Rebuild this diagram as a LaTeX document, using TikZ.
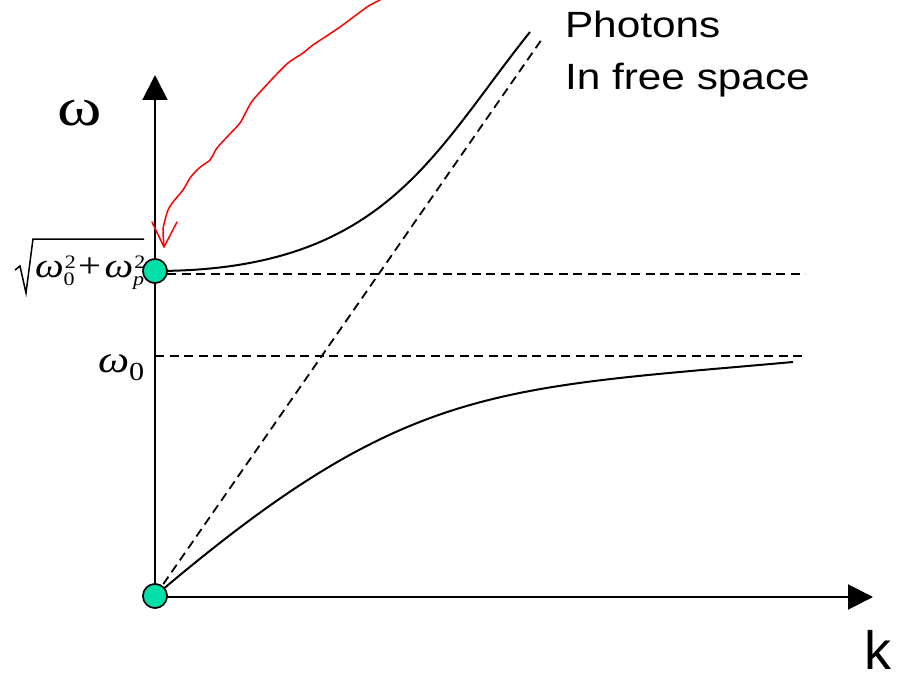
\documentclass[tikz,border=0pt]{standalone}
\usepackage{fontspec}
\setmainfont{Liberation Serif}
\newfontfamily\arialf{Liberation Sans}
\usetikzlibrary{arrows.meta}
\definecolor{dotgreen}{RGB}{0,224,168}
\newcommand\sx[1]{\scalebox{1.16}[1]{#1}}
\newcommand\smallfs{\fontsize{19}{19}\selectfont}
\newcommand\wsup[2]{\mbox{\itshape ω}\rlap{\hspace{1pt}\raisebox{9pt}{\smallfs #1}}\raisebox{-8pt}{\smallfs #2}}
\begin{document}
\begin{tikzpicture}[x=1pt,y=-1pt,
  dotnode/.style={circle,draw=black,fill=dotgreen,minimum size=24pt,inner sep=0pt,line width=1.5pt},
  axisline/.style={line width=2pt,-{Triangle[length=25pt,width=25pt]}},
  curveline/.style={line width=2pt},
  dashline/.style={line width=1.8pt,dash pattern=on 9pt off 5.5pt},
  hand/.style={red,line width=1.5pt,line join=round,line cap=round},
  lab/.style={inner sep=0pt,outer sep=0pt}]
\useasboundingbox (0,0) rectangle (898,677);
\coordinate (ytip) at (155,75);
\coordinate (xtip) at (873,597);
\coordinate (dg) at (542,39);
\coordinate (h1a) at (155,356);
\coordinate (h1b) at (803,356);
\coordinate (h2b) at (805,274);
\coordinate (up) at (530,32);
\coordinate (lo) at (793,362);
% axes
\draw[axisline] (155,596) -- (ytip);
\draw[axisline] (155,597) -- (xtip);
% dashed lines
\draw[dashline] (h1a) -- (h1b);
\draw[dashline] (167,274) -- (h2b);
\draw[dashline] (155,596) -- (dg);
% dots (placed first so curves can start at them)
\node[dotnode] (o) at (155,596) {};
\node[dotnode] (u) at (155,271) {};
% curves
\draw[curveline] (u.center) .. controls (385,271) and (432,154) .. (up);
\draw[curveline] (o.center) .. controls (405,383.5) and (493,389) .. (lo);
% dots on top
\node[dotnode] at (o) {};
\node[dotnode] at (u) {};
% red hand-drawn arrow
\draw[hand] plot[smooth,tension=0.4] coordinates {(380,0) (367,7) (340,27) (313,45) (303,53) (288,63) (273,78) (253,100) (247,110) (240,123) (227,137) (217,148) (210,160) (203,165) (197,170) (190,178) (183,190) (173,202) (168,210) (165,220) (163,230) (164,247)};
\draw[hand] (152,222) -- (164,247) -- (177,222);
% labels
\node[lab,anchor=base] (wlab) at (80,125) {\fontsize{54}{54}\selectfont\scalebox{1.25}[1]{ω}};
\node[lab,anchor=base west] (w0lab) at (98,372) {\fontsize{38}{38}\selectfont\sx{\mbox{\itshape ω}\raisebox{-8pt}{\fontsize{26}{26}\selectfont 0}}};
\node[lab,anchor=base west] (sqlab) at (35,277) {\fontsize{35}{35}\selectfont\sx{\wsup{2}{0}\hspace{3pt}+\hspace{3pt}\wsup{2}{\itshape p}}};
\draw[line width=1.5pt,line join=miter] (15,270) -- (20,266) -- (26,293) -- (33,239) -- (144,239);
\node[lab,anchor=base west] (ph1) at (565,38) {\arialf\fontsize{36.5}{36.5}\selectfont\sx{Photons}};
\node[lab,anchor=base west] (ph2) at (565,89) {\arialf\fontsize{36.5}{36.5}\selectfont\sx{In free space}};
\node[lab,anchor=base west] (klab) at (864,669) {\arialf\fontsize{54}{54}\selectfont k};
\end{tikzpicture}
\end{document}
